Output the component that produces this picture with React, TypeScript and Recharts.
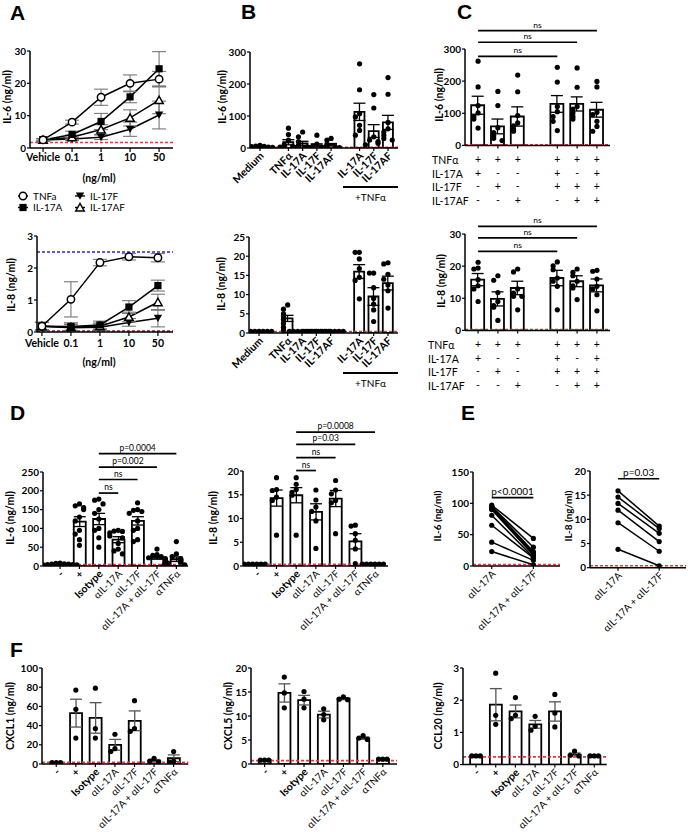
import React from 'react';
import { ComposedChart, LineChart, Line, Bar, Scatter, XAxis, YAxis, ErrorBar, ReferenceLine } from 'recharts';

const FONT = 'Lato, "Open Sans", Arial, sans-serif';
const RED = '#e23a3f';
const BLUE = '#2b2bb0';
const DARKRED = '#8b1c1c';

// ---------- A: dose response ----------
const aDoses = ['Vehicle', '0.1', '1', '10', '50'];
const aIl6Tnf = [2.5, 8.0, 15.7, 20.0, 21.3];
const aIl6TnfSem = [0.4, 0.6, 2.5, 2.6, 2.4];
const aIl6A = [2.5, 4.2, 8.2, 15.8, 24.5];
const aIl6ASem = [0.4, 1.0, 2.5, 1.8, 5.3];
const aIl6F = [2.5, 2.8, 3.3, 5.8, 10.2];
const aIl6FSem = [0.4, 0.5, 0.7, 2.2, 4.3];
const aIl6AF = [2.5, 3.3, 5.7, 9.3, 14.8];
const aIl6AFSem = [0.4, 0.7, 1.5, 2.5, 4.2];
const aIl8Tnf = [0.18, 1.02, 2.17, 2.35, 2.32];
const aIl8TnfSem = [0.12, 0.55, 0.1, 0.1, 0.13];
const aIl8A = [0.18, 0.17, 0.22, 0.78, 1.45];
const aIl8ASem = [0.12, 0.12, 0.12, 0.2, 0.17];
const aIl8F = [0.18, 0.13, 0.15, 0.3, 0.43];
const aIl8FSem = [0.12, 0.1, 0.1, 0.12, 0.27];
const aIl8AF = [0.18, 0.15, 0.18, 0.47, 0.93];
const aIl8AFSem = [0.12, 0.1, 0.1, 0.15, 0.25];

// ---------- B: single / combined stimulation ----------
const bLabels = ['Medium', 'TNFα', 'IL-17A', 'IL-17F', 'IL-17AF', 'IL-17A', 'IL-17F', 'IL-17AF'];
const bIl6Mean = [5, 18, 14, 8, 10, 113, 53, 80];
const bIl6Sem = [1, 8, 7, 5, 4, 27, 20, 22];
const bIl6Dots = [
  [8, 6, 5, 4, 3, 3, 2],
  [62, 42, 25, 10, 6, 4, 3, 2],
  [50, 35, 20, 8, 4, 3, 2],
  [40, 12, 5, 3, 2, 2, 1],
  [30, 25, 12, 6, 3, 2, 1],
  [263, 182, 107, 97, 71, 55, 40],
  [167, 125, 35, 25, 20, 15, 10],
  [220, 168, 80, 60, 50, 40, 30, 25],
];
const bIl8Mean = [0.4, 3.8, 0.4, 0.4, 0.4, 16, 9.5, 13];
const bIl8Sem = [0, 0.8, 0, 0, 0, 1.8, 2.3, 1.8];
const bIl8Dots = [
  [0.4, 0.4, 0.4, 0.4, 0.4, 0.4, 0.4],
  [7.3, 6.2, 5, 4.2, 3.5, 2.5, 1.5, 0.8],
  [0.4, 0.4, 0.4, 0.4, 0.4, 0.4, 0.4],
  [0.4, 0.4, 0.4, 0.4, 0.4, 0.4, 0.4],
  [0.4, 0.4, 0.4, 0.4, 0.4, 0.4, 0.4],
  [21, 21, 19.3, 16.8, 14.5, 13.7, 8.9],
  [15.6, 15.6, 11.8, 9, 7.5, 6, 3],
  [18.3, 18, 15.3, 14, 12.5, 11, 6.5],
];

// ---------- C: combinations ----------
const cRowNames = ['TNFα', 'IL-17A', 'IL-17F', 'IL-17AF'];
const cTnf = ['+', '+', '+', '+', '+', '+'];
const cIl17a = ['+', '-', '-', '+', '-', '+'];
const cIl17f = ['-', '+', '-', '+', '+', '+'];
const cIl17af = ['-', '-', '+', '-', '+', '+'];
const cIl6Mean = [125, 59, 90, 129, 129, 111];
const cIl6Sem = [28, 23, 30, 26, 22, 23];
const cIl6Dots = [
  [262, 182, 124, 101, 90, 82, 54],
  [168, 124, 55, 40, 30, 22, 15],
  [219, 167, 93, 70, 61, 51, 44],
  [243, 197, 121, 105, 90, 75, 46],
  [241, 181, 121, 113, 101, 90, 82],
  [199, 182, 103, 96, 75, 59, 44],
];
const cIl8Mean = [15.8, 9.8, 13.2, 16.3, 15.3, 14.0];
const cIl8Sem = [1.9, 2.2, 2.1, 2.4, 1.7, 2.0];
const cIl8Dots = [
  [21.2, 19.4, 19.1, 15.8, 13.9, 12.9, 9.0],
  [17, 15.6, 11.8, 9, 7.7, 7.2, 3.1],
  [19.1, 18.2, 12.9, 11.6, 10.6, 10.6, 6.4],
  [21.3, 20.1, 18.9, 16.3, 15.3, 13.7, 6.4],
  [19.1, 18.1, 17, 15.3, 13.9, 13.2, 9.6],
  [18.7, 18.4, 16, 13.7, 12.9, 11.1, 6.1],
];

// ---------- D / F: blocking antibodies ----------
const abLabels = ['-', '+', 'Isotype', 'αIL-17A', 'αIL-17F', 'αIL-17A + αIL-17F', 'αTNFα'];
const dIl6Mean = [5, 118, 125, 70, 120, 22, 18];
const dIl6Sem = [1, 13, 15, 8, 11, 4, 6];
const dIl6Dots = [
  [8, 7, 6, 5, 5, 4, 4, 3, 3, 2],
  [165, 160, 155, 150, 130, 120, 95, 85, 70, 55],
  [178, 175, 165, 150, 140, 125, 100, 95, 75, 50],
  [95, 93, 92, 88, 80, 75, 60, 45, 40, 32],
  [168, 150, 148, 145, 140, 120, 100, 95, 70, 65],
  [45, 30, 28, 25, 22, 20, 15, 12, 10, 8],
  [65, 32, 25, 20, 15, 10, 8, 5, 3, 2],
];
const dIl8Mean = [0.4, 14.3, 14.9, 11.4, 14.2, 5.2, 0.4];
const dIl8Sem = [0, 1.7, 1.6, 1.7, 1.7, 1.6, 0];
const dIl8Dots = [
  [0.4, 0.4, 0.4, 0.4, 0.4, 0.4],
  [18.6, 16.1, 15.9, 14.5, 13.8, 6.5],
  [18.6, 17.2, 16.1, 15.5, 14.9, 6.5],
  [16, 13.9, 12.4, 11.5, 9.5, 3.7],
  [18, 16, 15.2, 13.8, 13.3, 6.8],
  [8.6, 8.4, 6.8, 5.4, 3.6, 0.5],
  [0.4, 0.4, 0.4, 0.4, 0.4, 0.4],
];
const fCxcl1Mean = [1.5, 53, 48, 20, 45, 3.5, 6];
const fCxcl1Sem = [0, 14.5, 15.9, 5.6, 10.3, 1.2, 3.5];
const fCxcl1Dots = [[1.5, 1.5, 1.5], [77, 57, 27], [79, 37, 27], [31, 16, 13], [66, 37, 34], [6, 3, 2], [13, 3, 2]];
const fCxcl5Mean = [0.8, 14.8, 13.3, 10.3, 13.6, 5.4, 1.0];
const fCxcl5Sem = [0, 1.9, 1.0, 0.7, 0.2, 0.25, 0];
const fCxcl5Dots = [[0.8, 0.8, 0.8], [18.1, 14.8, 11.7], [15.1, 13.5, 11.7], [11.5, 10.3, 9.2], [14, 13.5, 13.4], [5.9, 5.4, 5.1], [1, 1, 1]];
const fCcl20Mean = [0.27, 1.86, 1.65, 1.25, 1.65, 0.31, 0.27];
const fCcl20Sem = [0, 0.5, 0.2, 0.12, 0.3, 0.05, 0];
const fCcl20Dots = [[0.27, 0.27, 0.27], [2.84, 1.53, 1.25], [2.08, 1.53, 1.43], [1.5, 1.19, 1.07], [2.18, 1.6, 1.17], [0.42, 0.29, 0.27], [0.27, 0.27, 0.27]];

// ---------- E: paired donors ----------
const eLabels = ['αIL-17A', 'αIL-17A + αIL-17F'];
const eIl6Pre = [97, 95, 94, 93, 91, 90, 81, 65, 38, 23];
const eIl6Post = [44, 30, 23, 21, 19, 17, 14, 13, 9, 2];
const eIl8Pre = [15.9, 14.6, 13.3, 11.9, 9.3, 3.8];
const eIl8Post = [8.6, 8.1, 7.1, 5.4, 3.4, 0.4];

type Sig = { a: number; b: number; y: number; text: string; size?: number };

const dotShape = (p: any) => <circle cx={p.cx} cy={p.cy} r={2.6} fill="#000" />;

// spread dots that sit close to each other in value
const jitter = (vals: number[], span: number) =>
  vals.map((v, i) => {
    const close = vals.filter((w, j) => j < i && Math.abs(w - v) < span).length;
    if (close === 0) return 0;
    const side = close % 2 === 1 ? -1 : 1;
    return side * Math.ceil(close / 2);
  });

const rotTick = (slots: number[], labels: string[]) => (p: any) => {
  const i = slots.indexOf(p.payload.value);
  const s = labels[i] ?? '';
  const light = s.startsWith('α');
  const tx = p.x + 2;
  const ty = p.y + 3;
  return (
    <text x={tx} y={ty} dy="0.35em" transform={`rotate(-45 ${tx} ${ty})`} textAnchor="end" fontSize={light ? 10 : 10.5} fontWeight={light ? 400 : 700} fontFamily={FONT} fill="#000">
      {s}
    </text>
  );
};

const tableTick = (slots: number[], rows: string[][]) => (p: any) => {
  const i = slots.indexOf(p.payload.value);
  return (
    <g>
      {rows.map((r, k) => (
        <text key={k} x={p.x} y={p.y + 11 + k * 13.6} dy="0.35em" textAnchor="middle" fontSize={10.5} fontFamily={FONT} fill="#000">
          {r[i]}
        </text>
      ))}
    </g>
  );
};

const yTickStyle = { fontSize: 10, fontWeight: 700, fill: '#000', fontFamily: FONT };
const xTickStyle = { fontSize: 10.5, fontWeight: 700, fill: '#000', fontFamily: FONT };

type DotBarProps = {
  x0: number; x1: number; yT: number; yB: number;
  dom: [number, number];
  slots: number[];
  labels: string[];
  means: number[]; sems: number[]; dots: number[][];
  yMax: number; yTicks: number[];
  lod: number;
  sig?: Sig[];
  barSize: number;
  table?: string[][];
  mt?: number;
  errColor?: string;
};

function DotBar(p: DotBarProps) {
  const yw = 32;
  const mt = p.mt ?? 12;
  const xh = 80;
  const mr = 3;
  const pxX = (p.x1 - p.x0) / (p.dom[1] - p.dom[0]);
  const span = (p.yMax * 5) / (p.yB - p.yT);
  const bars = p.slots.map((s, i) => ({ x: s, mean: p.means[i], err: p.sems[i] }));
  const pts = p.dots.flatMap((g, i) => {
    const off = jitter(g, span);
    return g.map((v, j) => ({ x: p.slots[i] + (off[j] * 4.2) / pxX, v }));
  });
  const tick = p.table ? tableTick(p.slots, p.table) : rotTick(p.slots, p.labels);
  return (
    <div style={{ position: 'absolute', left: p.x0 - yw, top: p.yT - mt }}>
      <ComposedChart width={yw + (p.x1 - p.x0) + mr} height={mt + (p.yB - p.yT) + xh} data={bars} margin={{ top: mt, right: mr, bottom: 0, left: 0 }}>
        <XAxis type="number" dataKey="x" domain={p.dom} ticks={p.slots} interval={0} allowDataOverflow height={xh}
          axisLine={{ stroke: '#000', strokeWidth: 1.5 }} tickLine={{ stroke: '#000', strokeWidth: 1.2 }} tickSize={3} tickMargin={0} tick={tick} />
        <XAxis xAxisId="pts" type="number" dataKey="x" domain={p.dom} allowDataOverflow hide />
        <YAxis type="number" domain={[0, p.yMax]} ticks={p.yTicks} interval={0} allowDataOverflow width={yw}
          axisLine={{ stroke: '#000', strokeWidth: 1.5 }} tickLine={{ stroke: '#000', strokeWidth: 1.2 }} tickSize={3} tickMargin={1} tick={yTickStyle} />
        <Bar dataKey="mean" barSize={p.barSize} fill="#fff" stroke="#000" strokeWidth={1.8} isAnimationActive={false}>
          <ErrorBar dataKey="err" width={6} stroke={p.errColor ?? '#000'} strokeWidth={1.3} direction="y" />
        </Bar>
        <ReferenceLine y={p.lod} stroke={RED} strokeDasharray="3 2" strokeWidth={1.6} ifOverflow="visible" />
        <Scatter xAxisId="pts" data={pts} dataKey="v" shape={dotShape} isAnimationActive={false} />
        {(p.sig ?? []).map((s, k) => (
          <ReferenceLine key={k} segment={[{ x: p.slots[s.a], y: s.y }, { x: p.slots[s.b], y: s.y }]} stroke="#000" strokeWidth={1.7} ifOverflow="visible"
            label={{ value: s.text, position: 'top', fontSize: s.size ?? 8.5, fill: '#000', fontFamily: FONT, offset: 3 }} />
        ))}
      </ComposedChart>
    </div>
  );
}

// ---------- dose-response line chart ----------
const marker = (kind: string) => (p: any) => {
  const { cx, cy, index } = p;
  if (cx == null || cy == null) return <g key={index} />;
  if (kind === 'circle') return <circle key={index} cx={cx} cy={cy} r={3.7} fill="#fff" stroke="#000" strokeWidth={1.5} />;
  if (kind === 'square') return <rect key={index} x={cx - 3.6} y={cy - 3.6} width={7.2} height={7.2} fill="#000" />;
  if (kind === 'down') return <path key={index} d={`M${cx - 4.2},${cy - 3.6}L${cx + 4.2},${cy - 3.6}L${cx},${cy + 3.8}Z`} fill="#000" />;
  return <path key={index} d={`M${cx - 4.2},${cy + 3.4}L${cx + 4.2},${cy + 3.4}L${cx},${cy - 4}Z`} fill="#fff" stroke="#000" strokeWidth={1.5} />;
};

const doseRows = (tnf: number[], tnfE: number[], a: number[], aE: number[], f: number[], fE: number[], af: number[], afE: number[]) =>
  aDoses.map((_, i) => ({ x: i, tnf: tnf[i], tnfE: tnfE[i], a: a[i], aE: aE[i], f: f[i], fE: fE[i], af: af[i], afE: afE[i] }));

const aSeries = [
  { key: 'f', shape: 'down' },
  { key: 'af', shape: 'up' },
  { key: 'a', shape: 'square' },
  { key: 'tnf', shape: 'circle' },
];

function DoseChart(p: { x0: number; x1: number; yT: number; yB: number; dom: [number, number]; yMax: number; yTicks: number[]; rows: any[]; lods: { y: number; c: string }[]; tm?: number }) {
  const yw = 32, mt = 10, xh = 30, mr = 3;
  return (
    <div style={{ position: 'absolute', left: p.x0 - yw, top: p.yT - mt }}>
      <LineChart width={yw + (p.x1 - p.x0) + mr} height={mt + (p.yB - p.yT) + xh} data={p.rows} margin={{ top: mt, right: mr, bottom: 0, left: 0 }}>
        <XAxis type="number" dataKey="x" domain={p.dom} ticks={[0, 1, 2, 3, 4]} interval={0} allowDataOverflow height={xh}
          tickFormatter={(v: number) => aDoses[v]} axisLine={{ stroke: '#000', strokeWidth: 1.5 }} tickLine={{ stroke: '#000', strokeWidth: 1.2 }} tickSize={4} tickMargin={p.tm ?? 2} tick={xTickStyle} />
        <YAxis type="number" domain={[0, p.yMax]} ticks={p.yTicks} interval={0} allowDataOverflow width={yw}
          axisLine={{ stroke: '#000', strokeWidth: 1.5 }} tickLine={{ stroke: '#000', strokeWidth: 1.2 }} tickSize={3} tickMargin={1} tick={yTickStyle} />
        {p.lods.map((l, k) => (
          <ReferenceLine key={k} y={l.y} stroke={l.c} strokeDasharray="3 2" strokeWidth={1.6} ifOverflow="visible" />
        ))}
        {aSeries.map((s) => (
          <Line key={s.key} dataKey={s.key} stroke="#000" strokeWidth={1.5} dot={marker(s.shape)} isAnimationActive={false}>
            <ErrorBar dataKey={s.key + 'E'} width={7} stroke="#777" strokeWidth={1.1} direction="y" />
          </Line>
        ))}
      </LineChart>
    </div>
  );
}

// ---------- paired chart ----------
function PairChart(p: { x0: number; x1: number; yT: number; yB: number; dom: [number, number]; yMax: number; yTicks: number[]; pre: number[]; post: number[]; lod: number; sig: Sig }) {
  const yw = 32, mt = 10, xh = 80, mr = 2;
  const rows = [p.pre, p.post].map((vals, i) => {
    const r: any = { x: i };
    vals.forEach((v, k) => (r['d' + k] = v));
    return r;
  });
  return (
    <div style={{ position: 'absolute', left: p.x0 - yw, top: p.yT - mt }}>
      <LineChart width={yw + (p.x1 - p.x0) + mr} height={mt + (p.yB - p.yT) + xh} data={rows} margin={{ top: mt, right: mr, bottom: 0, left: 0 }}>
        <XAxis type="number" dataKey="x" domain={p.dom} ticks={[0, 1]} interval={0} allowDataOverflow height={xh}
          axisLine={{ stroke: '#000', strokeWidth: 1.5 }} tickLine={{ stroke: '#000', strokeWidth: 1.2 }} tickSize={3} tickMargin={0} tick={rotTick([0, 1], eLabels)} />
        <YAxis type="number" domain={[0, p.yMax]} ticks={p.yTicks} interval={0} allowDataOverflow width={yw}
          axisLine={{ stroke: '#000', strokeWidth: 1.5 }} tickLine={{ stroke: '#000', strokeWidth: 1.2 }} tickSize={3} tickMargin={1} tick={yTickStyle} />
        <ReferenceLine y={p.lod} stroke={RED} strokeDasharray="3 2" strokeWidth={1.6} ifOverflow="visible" />
        {p.pre.map((_, k) => (
          <Line key={k} dataKey={'d' + k} stroke="#000" strokeWidth={1.5} dot={(d: any) => <circle key={d.index} cx={d.cx} cy={d.cy} r={2.6} fill="#000" />} isAnimationActive={false} />
        ))}
        <ReferenceLine segment={[{ x: 0, y: p.sig.y }, { x: 1, y: p.sig.y }]} stroke="#000" strokeWidth={1.7} ifOverflow="visible"
          label={{ value: p.sig.text, position: 'top', fontSize: p.sig.size ?? 10, fill: '#000', fontFamily: FONT, offset: 3 }} />
      </LineChart>
    </div>
  );
}

// ---------- html text helpers ----------
function Letter({ x, y, t }: { x: number; y: number; t: string }) {
  return <div style={{ position: 'absolute', left: x, top: y, fontFamily: '"Liberation Sans", Arial, sans-serif', fontWeight: 700, fontSize: 21, lineHeight: 1 }}>{t}</div>;
}

function VLabel({ x, y, text, size = 10.5 }: { x: number; y: number; text: string; size?: number }) {
  return (
    <div style={{ position: 'absolute', left: x, top: y, transform: 'translate(-50%, -50%) rotate(-90deg)', fontFamily: FONT, fontWeight: 700, fontSize: size, whiteSpace: 'nowrap', lineHeight: 1 }}>
      {text}
    </div>
  );
}

function HText({ x, y, text, size = 10.5, bold = true }: { x: number; y: number; text: string; size?: number; bold?: boolean }) {
  return (
    <div style={{ position: 'absolute', left: x, top: y, transform: 'translate(-50%, -50%)', fontFamily: FONT, fontWeight: bold ? 700 : 400, fontSize: size, whiteSpace: 'nowrap', lineHeight: 1 }}>
      {text}
    </div>
  );
}

function Bracket({ x0, x1, y, text }: { x0: number; x1: number; y: number; text: string }) {
  return (
    <>
      <div style={{ position: 'absolute', left: x0, top: y - 1, width: x1 - x0, height: 0, borderTop: '2px solid #000' }} />
      <HText x={(x0 + x1) / 2} y={y + 10} text={text} size={10} bold={false} />
    </>
  );
}

function RowNames({ x, y }: { x: number; y: number }) {
  return (
    <>
      {cRowNames.map((n, k) => (
        <div key={k} style={{ position: 'absolute', left: x, top: y + k * 13.6, transform: 'translateY(-50%)', fontFamily: FONT, fontSize: 10.5, lineHeight: 1, whiteSpace: 'nowrap' }}>
          {n}
        </div>
      ))}
    </>
  );
}

function DoseLegend() {
  const items = [
    { x: 23, y: 196, shape: 'circle', t: 'TNFa' },
    { x: 80, y: 196, shape: 'down', t: 'IL-17F' },
    { x: 23, y: 207.5, shape: 'square', t: 'IL-17A' },
    { x: 80, y: 207.5, shape: 'up', t: 'IL-17AF' },
  ];
  return (
    <svg style={{ position: 'absolute', left: 0, top: 0 }} width={140} height={220}>
      {items.map((it, k) => (
        <g key={k}>
          <line x1={it.x - 5} x2={it.x + 5} y1={it.y} y2={it.y} stroke="#000" strokeWidth={1.4} />
          {marker(it.shape)({ cx: it.x, cy: it.y, index: k })}
          <text x={it.x + 10} y={it.y} dy="0.35em" fontSize={10} fontFamily={FONT} fill="#000">{it.t}</text>
        </g>
      ))}
    </svg>
  );
}

const B_SLOTS = [0, 2, 3, 4, 5, 7, 8, 9];
const C_SLOTS = [0, 1, 2, 4, 5, 6];
const AB_SLOTS = [0, 1, 2, 3, 4, 5, 6];

export default function App() {
  const cTable = [cTnf, cIl17a, cIl17f, cIl17af];
  return (
    <div style={{ position: 'absolute', left: 0, top: 0, width: 688, height: 832, background: '#fff', color: '#000', overflow: 'hidden' }}>
      <Letter x={10} y={2} t="A" />
      <Letter x={241} y={1} t="B" />
      <Letter x={457} y={1} t="C" />
      <Letter x={10} y={402} t="D" />
      <Letter x={461} y={402} t="E" />
      <Letter x={10} y={639} t="F" />

      {/* A */}
      <DoseChart x0={30} x1={173} yT={51} yB={148} dom={[-0.45, 4.48]} yMax={30} yTicks={[0, 10, 20, 30]}
        rows={doseRows(aIl6Tnf, aIl6TnfSem, aIl6A, aIl6ASem, aIl6F, aIl6FSem, aIl6AF, aIl6AFSem)} lods={[{ y: 1.7, c: RED }]} />
      <DoseChart x0={37} x1={173} yT={236} yB={332} dom={[-0.17, 4.52]} yMax={3} yTicks={[0, 1, 2, 3]} tm={4}
        rows={doseRows(aIl8Tnf, aIl8TnfSem, aIl8A, aIl8ASem, aIl8F, aIl8FSem, aIl8AF, aIl8AFSem)} lods={[{ y: 2.5, c: BLUE }, { y: 0.03, c: DARKRED }]} />
      <VLabel x={7} y={97} text="IL-6 (ng/ml)" />
      <VLabel x={11} y={285} text="IL-8 (ng/ml)" />
      <HText x={99} y={178} text="(ng/ml)" />
      <HText x={99} y={362} text="(ng/ml)" />
      <DoseLegend />

      {/* B */}
      <DotBar x0={250} x1={398} yT={52} yB={148} dom={[-0.7, 9.7]} slots={B_SLOTS} labels={bLabels}
        means={bIl6Mean} sems={bIl6Sem} dots={bIl6Dots} yMax={300} yTicks={[0, 100, 200, 300]} lod={2} barSize={10} />
      <DotBar x0={249} x1={398} yT={237} yB={333} dom={[-0.7, 9.7]} slots={B_SLOTS} labels={bLabels}
        means={bIl8Mean} sems={bIl8Sem} dots={bIl8Dots} yMax={25} yTicks={[0, 5, 10, 15, 20, 25]} lod={0.4} barSize={10} />
      <VLabel x={222} y={97} text="IL-6 (ng/ml)" />
      <VLabel x={221} y={284} text="IL-8 (ng/ml)" />
      <Bracket x0={343} x1={398} y={187} text="+TNFα" />
      <Bracket x0={343} x1={398} y={373} text="+TNFα" />

      {/* C */}
      <DotBar x0={465} x1={610} yT={49.3} yB={145.7} dom={[-0.66, 6.66]} slots={C_SLOTS} labels={[]} table={cTable} mt={32}
        means={cIl6Mean} sems={cIl6Sem} dots={cIl6Dots} yMax={300} yTicks={[0, 100, 200, 300]} lod={2} barSize={13}
        sig={[{ a: 0, b: 5, y: 357, text: 'ns' }, { a: 0, b: 4, y: 321, text: 'ns' }, { a: 0, b: 3, y: 277, text: 'ns' }]} />
      <DotBar x0={465} x1={610} yT={234.3} yB={330.7} dom={[-0.66, 6.66]} slots={C_SLOTS} labels={[]} table={cTable} mt={20}
        means={cIl8Mean} sems={cIl8Sem} dots={cIl8Dots} yMax={30} yTicks={[0, 10, 20, 30]} lod={0.3} barSize={13}
        sig={[{ a: 0, b: 5, y: 32.4, text: 'ns' }, { a: 0, b: 4, y: 28.8, text: 'ns' }, { a: 0, b: 3, y: 24.6, text: 'ns' }]} />
      <VLabel x={439} y={95} text="IL-6 (ng/ml)" />
      <VLabel x={441} y={281} text="IL-8 (ng/ml)" />
      <RowNames x={432} y={160} />
      <RowNames x={428} y={345} />

      {/* D */}
      <DotBar x0={43} x1={188} yT={471.7} yB={565.7} dom={[-0.88, 6.6]} slots={AB_SLOTS} labels={abLabels} mt={45}
        means={dIl6Mean} sems={dIl6Sem} dots={dIl6Dots} yMax={250} yTicks={[0, 50, 100, 150, 200, 250]} lod={4} barSize={12}
        sig={[{ a: 2, b: 6, y: 299, text: 'p=0.0004' }, { a: 2, b: 5, y: 263, text: 'p=0.002' }, { a: 2, b: 4, y: 230, text: 'ns' }, { a: 2, b: 3, y: 194, text: 'ns' }]} />
      <DotBar x0={243} x1={388} yT={470.7} yB={565.7} dom={[-0.7, 6.66]} slots={AB_SLOTS} labels={abLabels} mt={55}
        means={dIl8Mean} sems={dIl8Sem} dots={dIl8Dots} yMax={20} yTicks={[0, 5, 10, 15, 20]} lod={0.35} barSize={12}
        sig={[{ a: 2, b: 6, y: 28.2, text: 'p=0.0008' }, { a: 2, b: 5, y: 25.6, text: 'p=0.03' }, { a: 2, b: 4, y: 22.8, text: 'ns' }, { a: 2, b: 3, y: 20.1, text: 'ns' }]} />
      <VLabel x={10} y={518} text="IL-6 (ng/ml)" />
      <VLabel x={213} y={518} text="IL-8 (ng/ml)" />

      {/* E */}
      <PairChart x0={473} x1={560} yT={471.7} yB={565.7} dom={[-0.45, 1.64]} yMax={150} yTicks={[0, 50, 100, 150]}
        pre={eIl6Pre} post={eIl6Post} lod={2.5} sig={{ a: 0, b: 1, y: 109, text: 'p<0.0001' }} />
      <PairChart x0={590} x1={686} yT={471} yB={567.7} dom={[-0.68, 1.65]} yMax={20} yTicks={[0, 5, 10, 15, 20]}
        pre={eIl8Pre} post={eIl8Post} lod={0.4} sig={{ a: 0, b: 1, y: 18.4, text: 'p=0.03' }} />
      <VLabel x={437} y={516} text="IL-6 (ng/ml)" size={10} />
      <VLabel x={568} y={516} text="IL-8 (ng/ml)" size={10} />

      {/* F */}
      <DotBar x0={41.7} x1={188} yT={668.3} yB={764.3} dom={[-0.73, 6.75]} slots={AB_SLOTS} labels={abLabels}
        means={fCxcl1Mean} sems={fCxcl1Sem} dots={fCxcl1Dots} yMax={100} yTicks={[0, 20, 40, 60, 80, 100]} lod={1.8} barSize={12} errColor="#555" />
      <DotBar x0={250.7} x1={396.7} yT={668.3} yB={764.3} dom={[-0.69, 6.72]} slots={AB_SLOTS} labels={abLabels}
        means={fCxcl5Mean} sems={fCxcl5Sem} dots={fCxcl5Dots} yMax={20} yTicks={[0, 5, 10, 15, 20]} lod={0.7} barSize={12} errColor="#555" />
      <DotBar x0={463} x1={606.7} yT={667.7} yB={764.3} dom={[-0.66, 6.63]} slots={AB_SLOTS} labels={abLabels}
        means={fCcl20Mean} sems={fCcl20Sem} dots={fCcl20Dots} yMax={3} yTicks={[0, 1, 2, 3]} lod={0.24} barSize={12} errColor="#555" />
      <VLabel x={10} y={716} text="CXCL1 (ng/ml)" />
      <VLabel x={228} y={716} text="CXCL5 (ng/ml)" />
      <VLabel x={438} y={716} text="CCL20 (ng/ml)" />
    </div>
  );
}
